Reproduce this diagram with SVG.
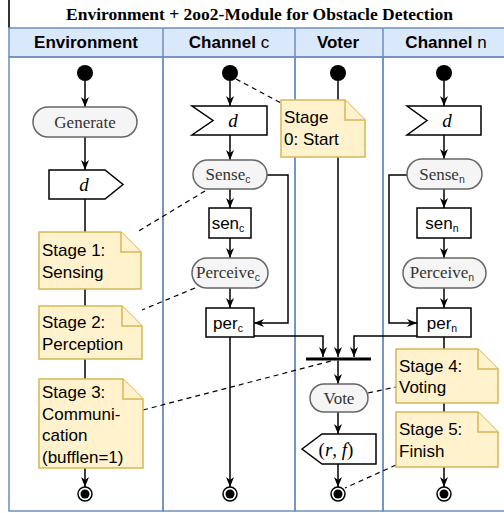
<svg xmlns="http://www.w3.org/2000/svg" width="504" height="513" viewBox="0 0 504 513">
<defs>
<marker id="arr" viewBox="0 0 10 8" refX="10" refY="4" markerWidth="10" markerHeight="8" markerUnits="userSpaceOnUse" orient="auto">
<path d="M0,0 L10,4 L0,8 L3,4 Z" fill="#000"/>
</marker>
<style>
.lane{fill:none;stroke:#6c8ebf;stroke-width:1.5}
.hdr{font-family:"Liberation Sans",Arial,sans-serif;font-size:17px;font-weight:bold;fill:#000;text-anchor:middle}
.title{font-family:"Liberation Serif","Times New Roman",serif;font-size:17.5px;font-weight:bold;fill:#000;text-anchor:middle}
.pill{fill:#f5f5f5;stroke:#666;stroke-width:1.5}
.ptxt{font-family:"Liberation Serif","Times New Roman",serif;font-size:17px;fill:#333;text-anchor:middle}
.box{fill:#fff;stroke:#000;stroke-width:1.5}
.btxt{font-family:"Liberation Sans",Arial,sans-serif;font-size:17px;fill:#000;text-anchor:middle}
.sub{font-family:"Liberation Sans",Arial,sans-serif;font-size:10.5px}
.math{font-family:"Liberation Serif","Times New Roman",serif;font-size:19px;font-style:italic;fill:#000;text-anchor:middle}
.note{fill:#fff2cc;stroke:#d6b656;stroke-width:1.5}
.ntxt{font-family:"Liberation Sans",Arial,sans-serif;font-size:17px;fill:#000}
.c{fill:none;stroke:#000;stroke-width:1.5}
.ca{fill:none;stroke:#000;stroke-width:1.5;marker-end:url(#arr)}
.d{fill:none;stroke:#000;stroke-width:1.2;stroke-dasharray:5,4}
.start{fill:#000}
.endo{fill:#fff;stroke:#000;stroke-width:1.5}
</style>
</defs>

<g id="pool">
<rect x="0" y="0" width="504" height="28" fill="#fff"/>
<line x1="9" y1="0" x2="9" y2="28" stroke="#333" stroke-width="2"/>
<text class="title" x="259.5" y="19.5">Environment + 2oo2-Module for Obstacle Detection</text>
<rect x="9" y="28" width="500" height="29" fill="#dae8fc" stroke="#6c8ebf" stroke-width="1.5"/>
<rect class="lane" x="9" y="57" width="154" height="454"/>
<rect class="lane" x="163" y="57" width="132" height="454"/>
<rect class="lane" x="295" y="57" width="88" height="454"/>
<rect class="lane" x="383" y="57" width="126" height="454"/>
<line x1="163" y1="28" x2="163" y2="57" stroke="#6c8ebf" stroke-width="1.5"/>
<line x1="295" y1="28" x2="295" y2="57" stroke="#6c8ebf" stroke-width="1.5"/>
<line x1="383" y1="28" x2="383" y2="57" stroke="#6c8ebf" stroke-width="1.5"/>
<text class="hdr" x="86" y="48">Environment</text>
<text class="hdr" x="229" y="48">Channel <tspan font-weight="normal">c</tspan></text>
<text class="hdr" x="338" y="48">Voter</text>
<text class="hdr" x="446" y="48">Channel <tspan font-weight="normal">n</tspan></text>
</g>

<g id="connectors">
<!-- Environment -->
<line class="ca" x1="85" y1="81" x2="85" y2="107"/>
<line class="ca" x1="85" y1="137" x2="85" y2="170"/>
<line class="ca" x1="85" y1="199" x2="85" y2="487"/>
<!-- Channel c -->
<line class="ca" x1="230" y1="81" x2="230" y2="106"/>
<line class="ca" x1="230" y1="135" x2="230" y2="160"/>
<line class="ca" x1="230" y1="189" x2="230" y2="208"/>
<line class="ca" x1="230" y1="238" x2="230" y2="258"/>
<line class="ca" x1="230" y1="288" x2="230" y2="308"/>
<line class="ca" x1="230" y1="337" x2="230" y2="487"/>
<path class="ca" d="M267,175 H288 V323 H254"/>
<path class="ca" d="M254,336 H323 V357"/>
<!-- Voter -->
<line class="ca" x1="338" y1="81" x2="338" y2="357"/>
<line class="ca" x1="338" y1="360.5" x2="338" y2="384"/>
<line class="ca" x1="338" y1="412" x2="338" y2="434"/>
<line class="ca" x1="338" y1="464" x2="338" y2="487"/>
<!-- Channel n -->
<line class="ca" x1="444" y1="81" x2="444" y2="106"/>
<line class="ca" x1="444" y1="135" x2="444" y2="159"/>
<line class="ca" x1="444" y1="189" x2="444" y2="208"/>
<line class="ca" x1="444" y1="238" x2="444" y2="258"/>
<line class="ca" x1="444" y1="288" x2="444" y2="308"/>
<line class="ca" x1="444" y1="337" x2="444" y2="487"/>
<path class="ca" d="M407,175 H389 V323 H417"/>
<path class="ca" d="M417,336 H354 V357"/>
<!-- dashed annotations -->
<line class="d" x1="236" y1="79" x2="281" y2="103"/>
<line class="d" x1="205" y1="191" x2="137" y2="232"/>
<line class="d" x1="195" y1="288" x2="142" y2="310"/>
<line class="d" x1="143" y1="410" x2="335" y2="360"/>
<line class="d" x1="368" y1="393" x2="396" y2="387"/>
<line class="d" x1="396" y1="465" x2="345" y2="488"/>
</g>

<!-- Environment nodes -->
<g id="env-start"><circle class="start" cx="85" cy="73" r="8"/></g>
<g id="generate"><rect class="pill" x="33" y="107" width="104" height="30" rx="15"/><text class="ptxt" x="85" y="127.5">Generate</text></g>
<g id="env-d"><path class="box" d="M49,170 L105,170 L123,184.5 L105,199 L49,199 Z"/><text class="math" x="84" y="191">d</text></g>
<g id="stage1"><path class="note" d="M39,232 H121 L141,252 V289 H39 Z"/><path class="note" d="M121,232 V252 H141"/><text class="ntxt" x="42" y="256">Stage 1:</text><text class="ntxt" x="42" y="278">Sensing</text></g>
<g id="stage2"><path class="note" d="M39,306 H122 L142,326 V359 H39 Z"/><path class="note" d="M122,306 V326 H142"/><text class="ntxt" x="42" y="328">Stage 2:</text><text class="ntxt" x="42" y="350">Perception</text></g>
<g id="stage3"><path class="note" d="M39,379 H123 L143,399 V468 H39 Z"/><path class="note" d="M123,379 V399 H143"/><text class="ntxt" x="42" y="398">Stage 3:</text><text class="ntxt" x="42" y="419.5">Communi-</text><text class="ntxt" x="42" y="441">cation</text><text class="ntxt" x="42" y="462.5">(bufflen=1)</text></g>
<g id="env-end"><circle class="endo" cx="85" cy="494" r="7"/><circle class="start" cx="85" cy="494" r="4.5"/></g>

<!-- Channel c nodes -->
<g id="c-start"><circle class="start" cx="230" cy="73" r="8"/></g>
<g id="c-d"><path class="box" d="M192,106 L267,106 L267,135 L192,135 L213,120.5 Z"/><text class="math" x="233" y="127">d</text></g>
<g id="sense-c"><rect class="pill" x="193" y="160" width="74" height="29" rx="14.5"/><text class="ptxt" x="228" y="180">Sense<tspan class="sub" dy="3">c</tspan></text></g>
<g id="sen-c"><rect class="box" x="209" y="208" width="42" height="30"/><text class="btxt" x="228" y="229">sen<tspan class="sub" dy="3">c</tspan></text></g>
<g id="perceive-c"><rect class="pill" x="192" y="258" width="76" height="30" rx="15"/><text class="ptxt" x="228" y="278">Perceive<tspan class="sub" dy="3">c</tspan></text></g>
<g id="per-c"><rect class="box" x="206" y="308" width="48" height="29"/><text class="btxt" x="228" y="329">per<tspan class="sub" dy="3">c</tspan></text></g>
<g id="c-end"><circle class="endo" cx="230" cy="494" r="7"/><circle class="start" cx="230" cy="494" r="4.5"/></g>

<!-- Voter nodes -->
<g id="v-start"><circle class="start" cx="338" cy="73" r="8"/></g>
<g id="stage0"><path class="note" d="M281,100 H345 L365,120 V157 H281 Z"/><path class="note" d="M345,100 V120 H365"/><text class="ntxt" x="284" y="123">Stage</text><text class="ntxt" x="284" y="145">0: Start</text></g>
<g id="join"><rect x="306" y="357.5" width="65" height="3" fill="#000"/></g>
<g id="vote"><rect class="pill" x="310" y="384" width="58" height="28" rx="14"/><text class="ptxt" x="339" y="403.5">Vote</text></g>
<g id="rf"><path class="box" d="M302,449 L322,434 L376,434 L376,464 L322,464 Z"/><text class="math" x="336" y="455.5"><tspan font-style="normal">(</tspan>r<tspan font-style="normal">, </tspan>f<tspan font-style="normal">)</tspan></text></g>
<g id="v-end"><circle class="endo" cx="338" cy="494" r="7"/><circle class="start" cx="338" cy="494" r="4.5"/></g>

<!-- Channel n nodes -->
<g id="n-start"><circle class="start" cx="444" cy="73" r="8"/></g>
<g id="n-d"><path class="box" d="M407,106 L481,106 L481,135 L407,135 L427,120.5 Z"/><text class="math" x="447" y="127">d</text></g>
<g id="sense-n"><rect class="pill" x="407" y="159" width="75" height="30" rx="15"/><text class="ptxt" x="442" y="180">Sense<tspan class="sub" dy="3">n</tspan></text></g>
<g id="sen-n"><rect class="box" x="417" y="208" width="54" height="30"/><text class="btxt" x="442" y="229">sen<tspan class="sub" dy="3">n</tspan></text></g>
<g id="perceive-n"><rect class="pill" x="403" y="258" width="83" height="30" rx="15"/><text class="ptxt" x="442" y="278">Perceive<tspan class="sub" dy="3">n</tspan></text></g>
<g id="per-n"><rect class="box" x="417" y="308" width="54" height="29"/><text class="btxt" x="442" y="329">per<tspan class="sub" dy="3">n</tspan></text></g>
<g id="stage4"><path class="note" d="M396,349 H478 L498,369 V403 H396 Z"/><path class="note" d="M478,349 V369 H498"/><text class="ntxt" x="399" y="372">Stage 4:</text><text class="ntxt" x="399" y="393">Voting</text></g>
<g id="stage5"><path class="note" d="M396,412 H478 L498,432 V467 H396 Z"/><path class="note" d="M478,412 V432 H498"/><text class="ntxt" x="399" y="435">Stage 5:</text><text class="ntxt" x="399" y="457">Finish</text></g>
<g id="n-end"><circle class="endo" cx="444" cy="494" r="7"/><circle class="start" cx="444" cy="494" r="4.5"/></g>
</svg>
